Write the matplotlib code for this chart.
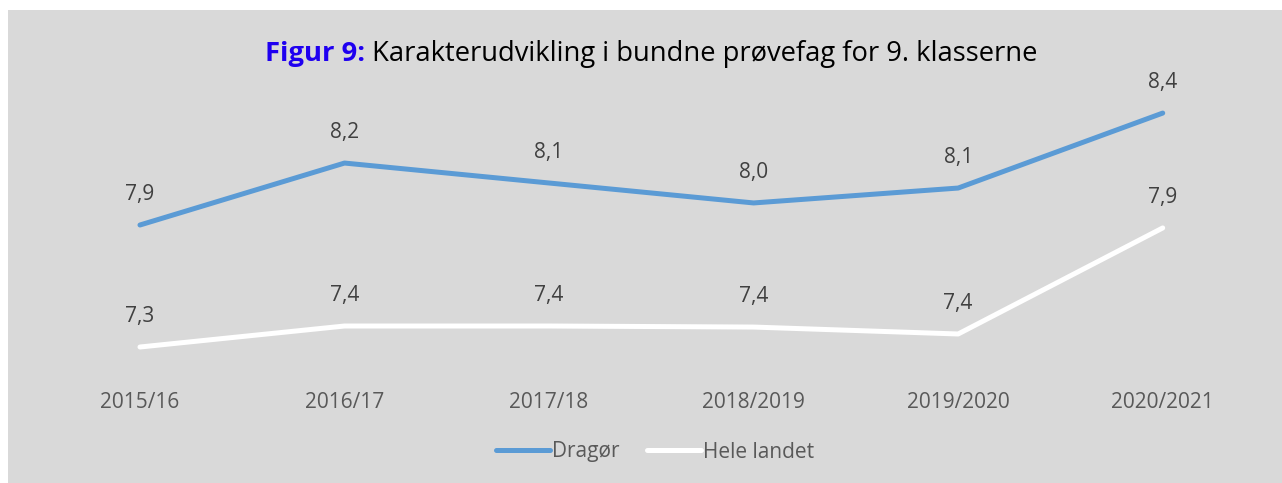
import matplotlib.pyplot as plt
from matplotlib.patches import Rectangle

plt.rcParams['font.family'] = ['Open Sans', 'DejaVu Sans']

years = ['2015/16', '2016/17', '2017/18', '2018/2019', '2019/2020', '2020/2021']
dragor = [7.90, 8.195, 8.10, 8.005, 8.076, 8.433]
hele_landet = [7.319, 7.419, 7.419, 7.414, 7.381, 7.886]
series_names = ['Dragør', 'Hele landet']
series_colors = ['#5b9bd5', '#ffffff']

fig = plt.figure(figsize=(12.82, 4.83), dpi=100)
fig.patch.set_facecolor('white')
# gray chart area (starts a little in from the top left corner)
fig.patches.append(Rectangle((8 / 1282, 0), 1 - 8 / 1282, 1 - 10 / 483,
                             transform=fig.transFigure, facecolor='#d9d9d9',
                             edgecolor='none', zorder=-5))

ax = fig.add_axes([37.7 / 1282, 1 - 393 / 483, (1265 - 37.7) / 1282, (393 - 78) / 483])
ax.set_facecolor('none')
ax.set_zorder(2)
x = list(range(len(years)))
for vals, name, col in zip([dragor, hele_landet], series_names, series_colors):
    ax.plot(x, vals, color=col, lw=3.6, solid_capstyle='round', label=name)
    for xi, v in zip(x, vals):
        ax.annotate(f'{v:.1f}'.replace('.', ','), (xi, v), xytext=(0, 22),
                    textcoords='offset points', ha='center', va='center',
                    fontsize=15, color='#404040')

ax.set_xlim(-0.5, len(years) - 0.5)
ax.set_ylim(7.1, 8.6)
ax.set_xticks(x)
ax.set_xticklabels(years, fontsize=15, color='#595959')
ax.tick_params(axis='x', length=0, pad=-1)
ax.set_yticks([])
for s in ax.spines.values():
    s.set_visible(False)

leg = fig.legend(loc='center', bbox_to_anchor=(655 / 1282, 1 - 452 / 483), ncol=2,
                 frameon=False, fontsize=15, handlelength=2.6, handletextpad=0.1,
                 columnspacing=1.3)
for t in leg.get_texts():
    t.set_color('#595959')
for h in leg.get_lines():
    h.set_solid_capstyle('round')

# title: bold blue prefix + black text
r = fig.canvas.get_renderer()
t1 = fig.text(0, 1 - 54 / 483, 'Figur 9:', fontsize=19.7, fontweight='bold',
              color='#1f00f0', va='center', ha='left')
t2 = fig.text(0, 1 - 54 / 483, ' Karakterudvikling i bundne prøvefag for 9. klasserne',
              fontsize=19.7, color='black', va='center', ha='left')
w1 = t1.get_window_extent(r).width
w2 = t2.get_window_extent(r).width
x0 = 651 - (w1 + w2) / 2
t1.set_x(x0 / 1282)
t2.set_x((x0 + w1) / 1282)

fig.savefig('out.png', dpi=100)
